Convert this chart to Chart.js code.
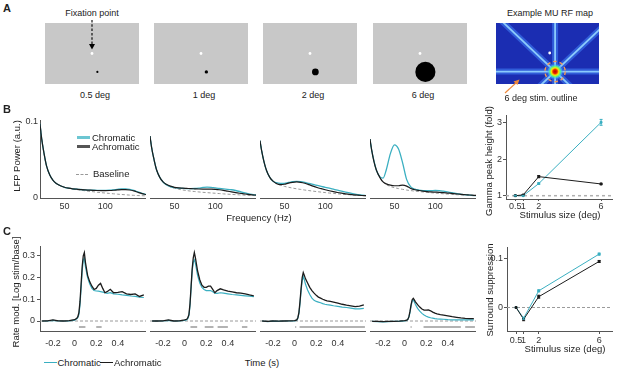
<!DOCTYPE html>
<html>
<head>
<meta charset="utf-8">
<script src="https://cdn.jsdelivr.net/npm/chart.js@4.4.0/dist/chart.umd.min.js"></script>
<style>
  html, body { margin: 0; padding: 0; background: #fff; }
  #fig { position: relative; width: 617px; height: 379px; overflow: hidden;
         font-family: 'Liberation Sans', Arial, sans-serif; color: #222; }
  .panel { position: absolute; }
  .txt { position: absolute; font-size: 9px; line-height: 1; white-space: nowrap; transform: translate(-50%, -50%); }
  .txt.left { transform: translate(0, -50%); }
  .txt.rot { transform: translate(-50%, -50%) rotate(-90deg); }
  .letter { position: absolute; font-size: 11px; font-weight: bold; line-height: 1; }
  .key { position: absolute; height: 0; }
  svg { position: absolute; left: 0; top: 0; }
</style>
</head>
<body>
<div id="fig"></div>
<script>
// --- Panel A: stimulus sizes (deg) and positions relative to fixation ---
const STIM_SIZES = [0.5, 1, 2, 6];
const STIM_LABELS = ['0.5 deg', '1 deg', '2 deg', '6 deg'];
const FIX_POS = [0, 0];
const STIM_POS = [1.6, -5.8];
const RF_CENTER = [1.6, -5.8];
const RF_BAR_ANGLES = [0, 45, 90, 135];
const RF_OUTLINE_DEG = 6;

// --- Panel B: LFP power spectra (a.u.) ---
const FREQS = [20,22,25,28,32,36,40,45,50,55,60,65,70,75,80,85,90,95,100,105,110,115,120,125,130,135,140,145,150];

const SPEC_05_BASE = [0.097,0.078,0.058,0.042,0.030,0.023,0.019,0.016,0.014,0.0128,0.0118,0.011,0.0102,0.0095,0.0088,0.0082,0.0076,0.007,0.0065,0.006,0.0055,0.005,0.0046,0.0042,0.0038,0.0035,0.0032,0.003,0.0028];
const SPEC_05_ACH  = [0.097,0.078,0.058,0.042,0.030,0.023,0.019,0.016,0.014,0.0128,0.012,0.0115,0.011,0.0106,0.0103,0.010,0.0098,0.0097,0.0097,0.0098,0.0101,0.0106,0.011,0.011,0.0105,0.0093,0.0075,0.0058,0.0045];
const SPEC_05_CHR  = [0.097,0.078,0.058,0.042,0.030,0.023,0.019,0.016,0.014,0.0128,0.012,0.0116,0.0111,0.0107,0.0104,0.0102,0.010,0.0099,0.010,0.0102,0.0107,0.0113,0.0118,0.0119,0.0113,0.010,0.008,0.0062,0.0047];

const SPEC_1_BASE = [0.081,0.066,0.05,0.037,0.027,0.021,0.017,0.0145,0.0128,0.0115,0.0105,0.0097,0.009,0.0084,0.0079,0.0074,0.007,0.0066,0.0062,0.0058,0.0054,0.005,0.0047,0.0044,0.0041,0.0038,0.0035,0.0033,0.0031];
const SPEC_1_ACH  = [0.081,0.066,0.05,0.037,0.027,0.021,0.018,0.0155,0.014,0.0132,0.0128,0.0125,0.0122,0.012,0.0118,0.0117,0.0117,0.0116,0.0113,0.0108,0.010,0.009,0.008,0.007,0.0062,0.0055,0.0048,0.0042,0.0038];
const SPEC_1_CHR  = [0.081,0.066,0.05,0.037,0.027,0.021,0.0175,0.015,0.0135,0.0128,0.0125,0.0123,0.0122,0.0124,0.013,0.0138,0.0143,0.014,0.0132,0.0124,0.0118,0.0114,0.0108,0.0098,0.0085,0.007,0.0057,0.0047,0.004];

const SPEC_2_BASE = [0.075,0.062,0.047,0.036,0.027,0.022,0.019,0.0168,0.0152,0.014,0.013,0.012,0.0112,0.0104,0.0097,0.009,0.0083,0.0077,0.0071,0.0065,0.006,0.0055,0.005,0.0046,0.0042,0.0038,0.0035,0.0032,0.003];
const SPEC_2_ACH  = [0.075,0.062,0.047,0.036,0.027,0.022,0.019,0.0175,0.018,0.0195,0.0205,0.021,0.0205,0.0193,0.0175,0.0155,0.0137,0.0122,0.0108,0.0095,0.0083,0.0072,0.0063,0.0055,0.0048,0.0042,0.0037,0.0033,0.003];
const SPEC_2_CHR  = [0.075,0.062,0.047,0.036,0.027,0.022,0.020,0.019,0.0192,0.0203,0.0213,0.0218,0.0213,0.0203,0.019,0.0178,0.0165,0.0152,0.014,0.0128,0.0115,0.0102,0.009,0.0078,0.0066,0.0055,0.0045,0.0037,0.0032];

const SPEC_6_BASE = [0.077,0.063,0.047,0.036,0.027,0.021,0.0175,0.015,0.0135,0.0123,0.0113,0.0104,0.0097,0.009,0.0084,0.0079,0.0074,0.0069,0.0064,0.006,0.0055,0.0051,0.0047,0.0044,0.0041,0.0038,0.0035,0.0032,0.003];
const SPEC_6_ACH  = [0.077,0.063,0.047,0.036,0.027,0.021,0.0185,0.0168,0.016,0.016,0.0168,0.0155,0.0125,0.0108,0.0098,0.009,0.0084,0.008,0.0077,0.0074,0.007,0.0065,0.006,0.0055,0.005,0.0045,0.0041,0.0037,0.0033];
const SPEC_6_CHR  = [0.077,0.063,0.048,0.036,0.028,0.026,0.037,0.058,0.0695,0.064,0.046,0.024,0.0145,0.0115,0.0103,0.0097,0.0095,0.0096,0.0098,0.0097,0.009,0.008,0.007,0.006,0.0052,0.0045,0.004,0.0035,0.0031];

// --- Panel B right: gamma peak height (fold) ---
const SIZES = [0.5, 1, 2, 6];
const GAMMA_CHR = [1.0, 1.0, 1.33, 3.0];
const GAMMA_CHR_ERR = [0.01, 0.01, 0.02, 0.08];
const GAMMA_ACH = [1.0, 1.02, 1.52, 1.32];
const GAMMA_ACH_ERR = [0.01, 0.01, 0.03, 0.02];

// --- Panel C: rate modulation, log(stim/base) ---
const TIMES = [-0.3,-0.25,-0.2,-0.15,-0.1,-0.05,0,0.02,0.03,0.04,0.05,0.06,0.07,0.08,0.09,0.1,0.12,0.14,0.16,0.18,0.2,0.22,0.24,0.26,0.28,0.3,0.33,0.36,0.4,0.44,0.48,0.52,0.56,0.6,0.64];

const RATE_05_ACH = [0,0.001,0.005,0.001,0,0.002,0.006,0.012,0.02,0.04,0.09,0.17,0.25,0.30,0.315,0.27,0.21,0.18,0.16,0.145,0.15,0.165,0.173,0.15,0.13,0.135,0.146,0.13,0.132,0.135,0.125,0.122,0.125,0.113,0.12];
const RATE_05_CHR = [0,0,0.003,0,0,0.001,0.004,0.01,0.016,0.03,0.075,0.15,0.23,0.28,0.289,0.25,0.20,0.17,0.15,0.14,0.138,0.137,0.135,0.133,0.13,0.127,0.13,0.125,0.123,0.12,0.118,0.115,0.113,0.11,0.108];

const RATE_1_ACH = [0,0,0.001,0.005,0,0.001,0.005,0.008,0.015,0.03,0.08,0.16,0.24,0.29,0.315,0.29,0.23,0.19,0.165,0.155,0.155,0.16,0.16,0.145,0.13,0.14,0.148,0.143,0.137,0.134,0.13,0.128,0.125,0.12,0.116];
const RATE_1_CHR = [0,0,0,0.003,0,0,0.003,0.006,0.012,0.025,0.07,0.15,0.23,0.27,0.281,0.265,0.21,0.175,0.155,0.145,0.14,0.14,0.14,0.135,0.128,0.127,0.13,0.128,0.125,0.122,0.12,0.118,0.116,0.114,0.112];

const RATE_2_ACH = [0,-0.002,0,-0.001,0,0.001,0.002,0.005,0.015,0.04,0.09,0.15,0.20,0.223,0.21,0.195,0.175,0.155,0.14,0.128,0.118,0.11,0.105,0.10,0.096,0.093,0.09,0.087,0.082,0.077,0.073,0.07,0.066,0.068,0.074];
const RATE_2_CHR = [0,-0.003,-0.001,-0.002,0,0,0.001,0.004,0.012,0.035,0.08,0.14,0.185,0.204,0.19,0.17,0.143,0.122,0.105,0.095,0.09,0.087,0.084,0.08,0.077,0.075,0.073,0.07,0.067,0.064,0.062,0.059,0.056,0.056,0.058];

const RATE_6_ACH = [-0.002,-0.002,-0.003,-0.002,-0.002,-0.001,0.002,0.004,0.008,0.02,0.045,0.075,0.098,0.104,0.097,0.088,0.075,0.064,0.055,0.05,0.05,0.051,0.047,0.041,0.036,0.033,0.029,0.027,0.024,0.02,0.017,0.014,0.012,0.011,0.011];
const RATE_6_CHR = [-0.002,-0.003,-0.004,-0.003,-0.002,-0.002,0.001,0.003,0.007,0.018,0.04,0.07,0.092,0.097,0.088,0.076,0.058,0.045,0.035,0.028,0.022,0.018,0.015,0.013,0.011,0.01,0.009,0.008,0.006,0.005,0.005,0.005,0.005,0.005,0.005];

// significant chromatic vs achromatic differences (time windows, s)
const SIG_05 = [[0.04, 0.1], [0.2, 0.25]];
const SIG_1 = [[0.054, 0.116], [0.186, 0.267], [0.305, 0.4], [0.53, 0.58]];
const SIG_2 = [[0.005, 0.015], [0.046, 0.65]];
const SIG_6 = [[0.055, 0.065], [0.175, 0.52], [0.56, 0.65]];

// --- Panel C right: surround suppression ---
const SUPP_CHR = [0, -0.022, 0.034, 0.109];
const SUPP_CHR_ERR = [0, 0.002, 0.002, 0.002];
const SUPP_ACH = [0, -0.024, 0.022, 0.094];
const SUPP_ACH_ERR = [0, 0.003, 0.003, 0.002];

// --- Styles ---
const TEAL = '#3aafc1';
const BLACK = '#1c1c1c';
const AXIS = { display: true, color: '#555', width: 1 };
const NO_GRID = { display: true, drawOnChartArea: false, drawTicks: false };
const TICK_GRID = { display: true, drawOnChartArea: false, drawTicks: true, tickLength: 3, color: '#555' };

Chart.defaults.font.family = "'Liberation Sans', Arial, sans-serif";
Chart.defaults.font.size = 9;
Chart.defaults.color = '#333';
Chart.defaults.animation = false;
Chart.defaults.responsive = true;
Chart.defaults.maintainAspectRatio = false;
Chart.defaults.plugins.legend.display = false;
Chart.defaults.plugins.tooltip.enabled = false;
Chart.defaults.elements.point.radius = 0;

// --- Plugins ---
const bgFill = {
  id: 'bgFill',
  beforeDatasetsDraw(chart, args, opts) {
    if (!opts.color) return;
    const a = chart.chartArea;
    chart.ctx.save();
    chart.ctx.fillStyle = opts.color;
    chart.ctx.fillRect(a.left, a.top, a.right - a.left, a.bottom - a.top);
    chart.ctx.restore();
  }
};
const refLine = {
  id: 'refLine',
  beforeDatasetsDraw(chart, args, opts) {
    if (opts.value === undefined) return;
    const { ctx, chartArea: a } = chart;
    const py = chart.scales.y.getPixelForValue(opts.value);
    ctx.save();
    ctx.strokeStyle = opts.color || '#999';
    ctx.lineWidth = opts.width || 1;
    ctx.setLineDash(opts.dash || [3, 2]);
    ctx.beginPath();
    ctx.moveTo(a.left, py);
    ctx.lineTo(a.right, py);
    ctx.stroke();
    ctx.restore();
  }
};
const errorBars = {
  id: 'errorBars',
  afterDatasetsDraw(chart) {
    const { ctx } = chart;
    const x = chart.scales.x, y = chart.scales.y;
    chart.data.datasets.forEach(ds => {
      if (!ds.errors) return;
      ctx.save();
      ctx.strokeStyle = ds.borderColor;
      ctx.lineWidth = 1;
      ds.data.forEach((p, k) => {
        const e = ds.errors[k];
        if (!e) return;
        const px = x.getPixelForValue(p.x);
        const y1 = y.getPixelForValue(p.y - e), y2 = y.getPixelForValue(p.y + e);
        ctx.beginPath();
        ctx.moveTo(px, y1); ctx.lineTo(px, y2);
        ctx.moveTo(px - 1.5, y1); ctx.lineTo(px + 1.5, y1);
        ctx.moveTo(px - 1.5, y2); ctx.lineTo(px + 1.5, y2);
        ctx.stroke();
      });
      ctx.restore();
    });
  }
};
Chart.register(bgFill, refLine, errorBars);

// --- Helpers ---
const fig = document.getElementById('fig');

function addChart(box, config) {
  const div = document.createElement('div');
  div.className = 'panel';
  div.style.left = box[0] + 'px';
  div.style.top = box[1] + 'px';
  div.style.width = box[2] + 'px';
  div.style.height = box[3] + 'px';
  const cv = document.createElement('canvas');
  div.appendChild(cv);
  fig.appendChild(div);
  return new Chart(cv, config);
}

function addText(str, x, y, cls, size) {
  const d = document.createElement('div');
  d.className = 'txt' + (cls ? ' ' + cls : '');
  d.style.left = x + 'px';
  d.style.top = y + 'px';
  if (size) d.style.fontSize = size + 'px';
  d.textContent = str;
  fig.appendChild(d);
}

function addKey(x, y, w, color, thick, dashed) {
  const d = document.createElement('div');
  d.className = 'key';
  d.style.left = x + 'px';
  d.style.top = (y - thick / 2) + 'px';
  d.style.width = w + 'px';
  d.style.borderTop = thick + 'px ' + (dashed ? 'dashed ' : 'solid ') + color;
  fig.appendChild(d);
}

function fixedTicks(values) {
  return scale => { scale.ticks = values.map(v => ({ value: v })); };
}

function xy(xs, ys) {
  return xs.map((x, k) => ({ x: x, y: ys[k] }));
}

function lineDs(xs, ys, color, width, extra) {
  return Object.assign({
    data: xy(xs, ys), borderColor: color, backgroundColor: color,
    borderWidth: width, pointRadius: 0, fill: false
  }, extra || {});
}

function sigDs(windows, level) {
  const pts = [];
  windows.forEach(w => {
    pts.push({ x: w[0], y: level }, { x: w[1], y: level }, { x: w[1], y: null });
  });
  return { data: pts, borderColor: '#9a9a9a', borderWidth: 1.5, pointRadius: 0, spanGaps: false };
}

// --- Panel A: stimulus displays ---
const STIM_BOXES = [41, 150, 259, 369];
STIM_BOXES.forEach((left, i) => {
  const size = STIM_SIZES[i];
  addChart([left, 19, 102, 69], {
    type: 'scatter',
    data: { datasets: [
      { data: [{ x: FIX_POS[0], y: FIX_POS[1] }], backgroundColor: '#fff', borderWidth: 0, pointRadius: 1.4 },
      { data: [{ x: STIM_POS[0], y: STIM_POS[1] }], backgroundColor: '#000', borderWidth: 0,
        pointRadius: ctx => {
          const sx = ctx.chart.scales.x;
          return Math.max(1.1, Math.abs(sx.getPixelForValue(size / 2) - sx.getPixelForValue(0)));
        } }
    ] },
    options: {
      layout: { padding: 0 },
      plugins: { bgFill: { color: '#c8c8c8' } },
      scales: {
        x: { type: 'linear', min: -14, max: 14, display: false },
        y: { type: 'linear', min: -9.6, max: 9.6, display: false }
      }
    }
  });
  addText(STIM_LABELS[i], left + 54, 94.5);
});

// RF map: moving bars through the RF centre
const rfBarSets = [];
RF_BAR_ANGLES.forEach(a => {
  const r = a * Math.PI / 180, L = 40;
  const pts = [
    { x: RF_CENTER[0] - L * Math.cos(r), y: RF_CENTER[1] - L * Math.sin(r) },
    { x: RF_CENTER[0] + L * Math.cos(r), y: RF_CENTER[1] + L * Math.sin(r) }
  ];
  rfBarSets.push({ data: pts, borderColor: 'rgba(150,215,255,0.9)', borderWidth: 1.8, pointRadius: 0 });
  rfBarSets.push({ data: pts, borderColor: 'rgba(70,140,255,0.5)', borderWidth: 6, pointRadius: 0 });
});
const rfBlob = {
  id: 'rfBlob',
  afterDatasetsDraw(chart) {
    const { ctx } = chart;
    const sx = chart.scales.x, sy = chart.scales.y;
    const cx = sx.getPixelForValue(RF_CENTER[0]), cy = sy.getPixelForValue(RF_CENTER[1]);
    const pxPerDeg = Math.abs(sx.getPixelForValue(1) - sx.getPixelForValue(0));
    ctx.save();
    const g = ctx.createRadialGradient(cx, cy, 0, cx, cy, 2.4 * pxPerDeg);
    g.addColorStop(0, 'rgba(190,0,0,1)');
    g.addColorStop(0.25, 'rgba(230,40,0,1)');
    g.addColorStop(0.45, 'rgba(255,230,0,1)');
    g.addColorStop(0.65, 'rgba(90,255,120,0.9)');
    g.addColorStop(0.85, 'rgba(60,180,255,0.5)');
    g.addColorStop(1, 'rgba(40,80,230,0)');
    ctx.fillStyle = g;
    ctx.beginPath();
    ctx.arc(cx, cy, 2.4 * pxPerDeg, 0, Math.PI * 2);
    ctx.fill();
    ctx.strokeStyle = '#f39a55';
    ctx.lineWidth = 1.4;
    ctx.setLineDash([3.5, 3]);
    ctx.beginPath();
    ctx.arc(cx, cy, RF_OUTLINE_DEG / 2 * pxPerDeg, 0, Math.PI * 2);
    ctx.stroke();
    ctx.restore();
  }
};
addChart([492, 19, 111, 69], {
  type: 'line',
  data: { datasets: [
    { data: [{ x: FIX_POS[0], y: FIX_POS[1] }], backgroundColor: '#fff', borderWidth: 0, pointRadius: 1.4, showLine: false }
  ].concat(rfBarSets) },
  options: {
    layout: { padding: 0 },
    plugins: { bgFill: { color: '#1b2db2' } },
    scales: {
      x: { type: 'linear', min: -15.9, max: 14.6, display: false },
      y: { type: 'linear', min: -9.7, max: 9.4, display: false }
    }
  },
  plugins: [rfBlob]
});

// --- Panel B: spectra ---
const SPEC_LEFTS = [40, 150, 260, 370];
const SPEC_ACH = [SPEC_05_ACH, SPEC_1_ACH, SPEC_2_ACH, SPEC_6_ACH];
const SPEC_CHR = [SPEC_05_CHR, SPEC_1_CHR, SPEC_2_CHR, SPEC_6_CHR];
const SPEC_BASE = [SPEC_05_BASE, SPEC_1_BASE, SPEC_2_BASE, SPEC_6_BASE];
SPEC_LEFTS.forEach((left, i) => {
  const yw = i === 0 ? 40 : 0;
  addChart([left - yw, 110, 106 + yw, 108], {
    type: 'line',
    data: { datasets: [
      lineDs(FREQS, SPEC_ACH[i], BLACK, 1.2, { cubicInterpolationMode: 'monotone' }),
      lineDs(FREQS, SPEC_CHR[i], TEAL, 1.3, { cubicInterpolationMode: 'monotone' }),
      lineDs(FREQS, SPEC_BASE[i], '#9a9a9a', 1, { cubicInterpolationMode: 'monotone', borderDash: [3, 2] })
    ] },
    options: {
      layout: { padding: { top: 10, left: 0, right: 0, bottom: 0 } },
      scales: {
        x: {
          type: 'linear', min: 20, max: 150,
          afterBuildTicks: fixedTicks([50, 100]),
          afterFit: s => { s.height = 20; s.paddingLeft = 0; s.paddingRight = 0; },
          grid: NO_GRID, border: AXIS,
          ticks: { padding: 3, callback: v => String(v), autoSkip: false, maxRotation: 0 }
        },
        y: {
          display: i === 0, min: 0, max: 0.102,
          afterBuildTicks: fixedTicks([0, 0.1]),
          afterFit: s => { s.width = yw; s.paddingTop = 0; s.paddingBottom = 0; },
          grid: NO_GRID, border: AXIS,
          ticks: { padding: 2, callback: v => String(v) }
        }
      }
    }
  });
});

// --- Panel B right: gamma peak height ---
addChart([470, 108, 147, 105], {
  type: 'line',
  data: { datasets: [
    lineDs(SIZES, GAMMA_ACH, BLACK, 1, { pointRadius: 1.3, pointStyle: 'rect', errors: GAMMA_ACH_ERR }),
    lineDs(SIZES, GAMMA_CHR, TEAL, 1, { pointRadius: 1.3, pointStyle: 'rect', errors: GAMMA_CHR_ERR })
  ] },
  options: {
    layout: { padding: { top: 7, right: 5, left: 0, bottom: 0 } },
    plugins: { refLine: { value: 1, color: '#b0b0b0', width: 1.5, dash: [3, 3] } },
    scales: {
      x: {
        type: 'linear', min: -0.1, max: 6.7,
        afterBuildTicks: fixedTicks(SIZES),
        afterFit: s => { s.height = 14; s.paddingLeft = 0; s.paddingRight = 0; },
        grid: Object.assign({}, TICK_GRID, { tickLength: 2 }), border: AXIS,
        ticks: { padding: 0, callback: v => String(v), autoSkip: false, maxRotation: 0 }
      },
      y: {
        min: 0.91, max: 3.2,
        afterBuildTicks: fixedTicks([1, 2, 3]),
        afterFit: s => { s.width = 36; s.paddingTop = 0; s.paddingBottom = 0; },
        grid: TICK_GRID, border: AXIS,
        ticks: { padding: 1, callback: v => String(v) }
      }
    }
  }
});

// --- Panel C: firing rate time courses ---
const RATE_ACH = [RATE_05_ACH, RATE_1_ACH, RATE_2_ACH, RATE_6_ACH];
const RATE_CHR = [RATE_05_CHR, RATE_1_CHR, RATE_2_CHR, RATE_6_CHR];
const SIGS = [SIG_05, SIG_1, SIG_2, SIG_6];
SPEC_LEFTS.forEach((left, i) => {
  const yw = i === 0 ? 40 : 0;
  addChart([left - yw, 240, 106 + yw, 111], {
    type: 'line',
    data: { datasets: [
      lineDs(TIMES, RATE_ACH[i], BLACK, 1.3),
      lineDs(TIMES, RATE_CHR[i], TEAL, 1.2),
      sigDs(SIGS[i], -0.028)
    ] },
    options: {
      layout: { padding: { top: 6, left: 0, right: 0, bottom: 0 } },
      plugins: { refLine: { value: 0, color: '#9a9a9a', width: 1, dash: [3, 2] } },
      scales: {
        x: {
          type: 'linear', min: -0.32, max: 0.66,
          afterBuildTicks: fixedTicks([-0.2, 0, 0.2, 0.4]),
          afterFit: s => { s.height = 20; s.paddingLeft = 0; s.paddingRight = 0; },
          grid: NO_GRID, border: AXIS,
          ticks: { padding: 7, callback: v => String(v), autoSkip: false, maxRotation: 0 }
        },
        y: {
          display: i === 0, min: -0.046, max: 0.345,
          afterBuildTicks: fixedTicks([0, 0.1, 0.2, 0.3]),
          afterFit: s => { s.width = yw; s.paddingTop = 0; s.paddingBottom = 0; },
          grid: TICK_GRID, border: AXIS,
          ticks: { padding: 2, callback: v => String(v) }
        }
      }
    }
  });
});

// --- Panel C right: surround suppression ---
addChart([470, 240, 147, 105], {
  type: 'line',
  data: { datasets: [
    lineDs(SIZES, SUPP_ACH, BLACK, 1, { pointRadius: 1.3, pointStyle: 'rect', errors: SUPP_ACH_ERR }),
    lineDs(SIZES, SUPP_CHR, TEAL, 1, { pointRadius: 1.3, pointStyle: 'rect', errors: SUPP_CHR_ERR })
  ] },
  options: {
    layout: { padding: { top: 7, right: 2, left: 0, bottom: 0 } },
    plugins: { refLine: { value: 0, color: '#9a9a9a', width: 1, dash: [3, 2] } },
    scales: {
      x: {
        type: 'linear', min: -0.1, max: 6.85,
        afterBuildTicks: fixedTicks(SIZES),
        afterFit: s => { s.height = 14; s.paddingLeft = 0; s.paddingRight = 0; },
        grid: TICK_GRID, border: AXIS,
        ticks: { padding: 1, callback: v => String(v), autoSkip: false, maxRotation: 0 }
      },
      y: {
        min: -0.048, max: 0.1235,
        afterBuildTicks: fixedTicks([0, 0.1]),
        afterFit: s => { s.width = 37; s.paddingTop = 0; s.paddingBottom = 0; },
        grid: TICK_GRID, border: AXIS,
        ticks: { padding: 1, callback: v => String(v) }
      }
    }
  }
});

// --- Text, legends and annotations ---
[['A', 3, 3], ['B', 3, 104], ['C', 3, 226]].forEach(l => {
  const d = document.createElement('div');
  d.className = 'letter';
  d.style.left = l[1] + 'px';
  d.style.top = l[2] + 'px';
  d.textContent = l[0];
  fig.appendChild(d);
});

addText('Fixation point', 92, 13);
addText('Example MU RF map', 550, 13);
addText('6 deg stim. outline', 541, 98);

addText('LFP Power (a.u.)', 17, 156, 'rot', 9.5);
addText('Frequency (Hz)', 259, 217.5, '', 9.5);
addText('Gamma peak height (fold)', 489, 161, 'rot', 9.5);
addText('Stimulus size (deg)', 560, 215, '', 9.5);

addText('Rate mod. [Log stim/base]', 16, 292, 'rot', 9.5);
addText('Time (s)', 262, 363, '', 9.5);
addText('Surround suppression', 490, 290, 'rot', 9.5);
addText('Stimulus size (deg)', 565, 349, '', 9.5);

// legend B
addKey(77, 137.7, 13, '#6cc6d2', 3);
addText('Chromatic', 92, 137.7, 'left', 9.5);
addKey(77, 146.7, 13, '#555', 3);
addText('Achromatic', 92, 146.7, 'left', 9.5);
addKey(76, 174.3, 12, '#999', 1, true);
addText('Baseline', 93, 174.3, 'left', 9.5);

// legend C
addKey(44, 362.7, 13, TEAL, 1.5);
addText('Chromatic', 57.5, 362.7, 'left', 9.5);
addKey(100, 362.7, 13, BLACK, 1.5);
addText('Achromatic', 114, 362.7, 'left', 9.5);

// arrows
const svgNS = 'http://www.w3.org/2000/svg';
const svg = document.createElementNS(svgNS, 'svg');
svg.setAttribute('width', 617);
svg.setAttribute('height', 379);
svg.innerHTML =
  '<line x1="92" y1="20" x2="92" y2="45" stroke="#000" stroke-width="1.1" stroke-dasharray="2.5,1.8"/>' +
  '<polygon points="89,44 95,44 92,49.5" fill="#000"/>' +
  '<line x1="505" y1="93" x2="517" y2="82" stroke="#f08a3c" stroke-width="1.2"/>' +
  '<polygon points="519.5,79.5 513.5,81.5 517.5,85" fill="#f08a3c"/>';
fig.appendChild(svg);
</script>
</body>
</html>
